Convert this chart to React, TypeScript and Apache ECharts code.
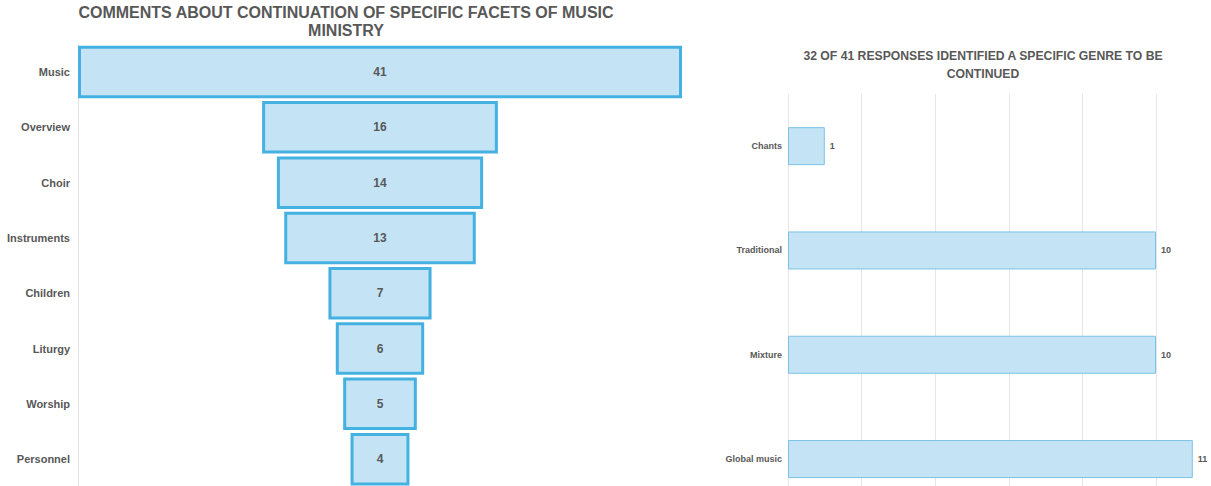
import React, { useEffect, useRef } from "react";
import * as echarts from "echarts";

const leftTitle = "COMMENTS ABOUT CONTINUATION OF SPECIFIC FACETS OF MUSIC\nMINISTRY";
const leftCategories = ["Music", "Overview", "Choir", "Instruments", "Children", "Liturgy", "Worship", "Personnel"];
const leftValues = [41, 16, 14, 13, 7, 6, 5, 4];

const rightTitle = "32 OF 41 RESPONSES IDENTIFIED A SPECIFIC GENRE TO BE\nCONTINUED";
const rightCategories = ["Chants", "Traditional", "Mixture", "Global music"];
const rightValues = [1, 10, 10, 11];

const FONT = "'Liberation Sans', Arial, sans-serif";
const TEXT = "#585858";

export default function App() {
  const ref = useRef<HTMLDivElement>(null);
  useEffect(() => {
    if (!ref.current) return;
    const chart = echarts.init(ref.current, null, { renderer: "svg" });
    const leftMax = Math.max(...leftValues);
    const offsets = leftValues.map((v) => (leftMax - v) / 2);
    chart.setOption({
      animation: false,
      textStyle: { fontFamily: FONT },
      title: [
        {
          text: leftTitle,
          left: 341,
          textAlign: "center",
          top: -2,
          textStyle: { fontFamily: FONT, fontSize: 16, fontWeight: "bold", color: TEXT, lineHeight: 18 },
        },
        {
          text: rightTitle,
          left: 978,
          textAlign: "center",
          top: 42,
          textStyle: { fontFamily: FONT, fontSize: 12.2, fontWeight: "bold", color: TEXT, lineHeight: 18 },
        },
      ],
      grid: [
        { left: 78, top: 44.4, width: 604, height: 442.4, containLabel: false, outerBoundsMode: "none" },
        { left: 788, top: 94, width: 441.6, height: 417.2, containLabel: false, outerBoundsMode: "none" },
      ],
      xAxis: [
        { type: "value", gridIndex: 0, min: 0, max: leftMax, show: false },
        {
          type: "value",
          gridIndex: 1,
          min: 0,
          max: 12,
          interval: 2,
          axisLabel: { show: false },
          axisLine: { show: false },
          axisTick: { show: false },
          splitLine: { show: true, lineStyle: { color: "#e6e6e6", width: 1 } },
        },
      ],
      yAxis: [
        {
          type: "category",
          gridIndex: 0,
          data: leftCategories,
          inverse: true,
          axisLine: { show: true, lineStyle: { color: "#e2e2e2" } },
          axisTick: { show: false },
          axisLabel: { margin: 8, fontFamily: FONT, fontSize: 11, fontWeight: "bold", color: TEXT },
        },
        {
          type: "category",
          gridIndex: 1,
          data: rightCategories,
          inverse: true,
          axisLine: { show: false },
          axisTick: { show: false },
          axisLabel: { margin: 6, fontFamily: FONT, fontSize: 9, fontWeight: "bold", color: TEXT },
        },
      ],
      series: [
        {
          type: "bar",
          xAxisIndex: 0,
          yAxisIndex: 0,
          stack: "funnel",
          data: offsets,
          barWidth: "95%",
          itemStyle: { color: "transparent" },
          silent: true,
        },
        {
          type: "bar",
          xAxisIndex: 0,
          yAxisIndex: 0,
          stack: "funnel",
          data: leftValues,
          barWidth: "95%",
          itemStyle: { color: "#c4e4f5", borderColor: "#45b1e1", borderWidth: 3 },
          label: {
            show: true,
            position: "inside",
            fontFamily: FONT,
            fontSize: 12,
            fontWeight: "bold",
            color: TEXT,
          },
        },
        {
          type: "bar",
          xAxisIndex: 1,
          yAxisIndex: 1,
          data: rightValues,
          barWidth: 38,
          itemStyle: { color: "#c4e4f5", borderColor: "#7cc2e6", borderWidth: 1 },
          label: {
            show: true,
            position: "right",
            distance: 5,
            fontFamily: FONT,
            fontSize: 9,
            fontWeight: "bold",
            color: TEXT,
          },
        },
      ],
    });
    return () => chart.dispose();
  }, []);
  return (
    <div
      ref={ref}
      style={{ position: "fixed", left: 0, top: 0, width: 1211, height: 486, background: "#fff" }}
    />
  );
}
